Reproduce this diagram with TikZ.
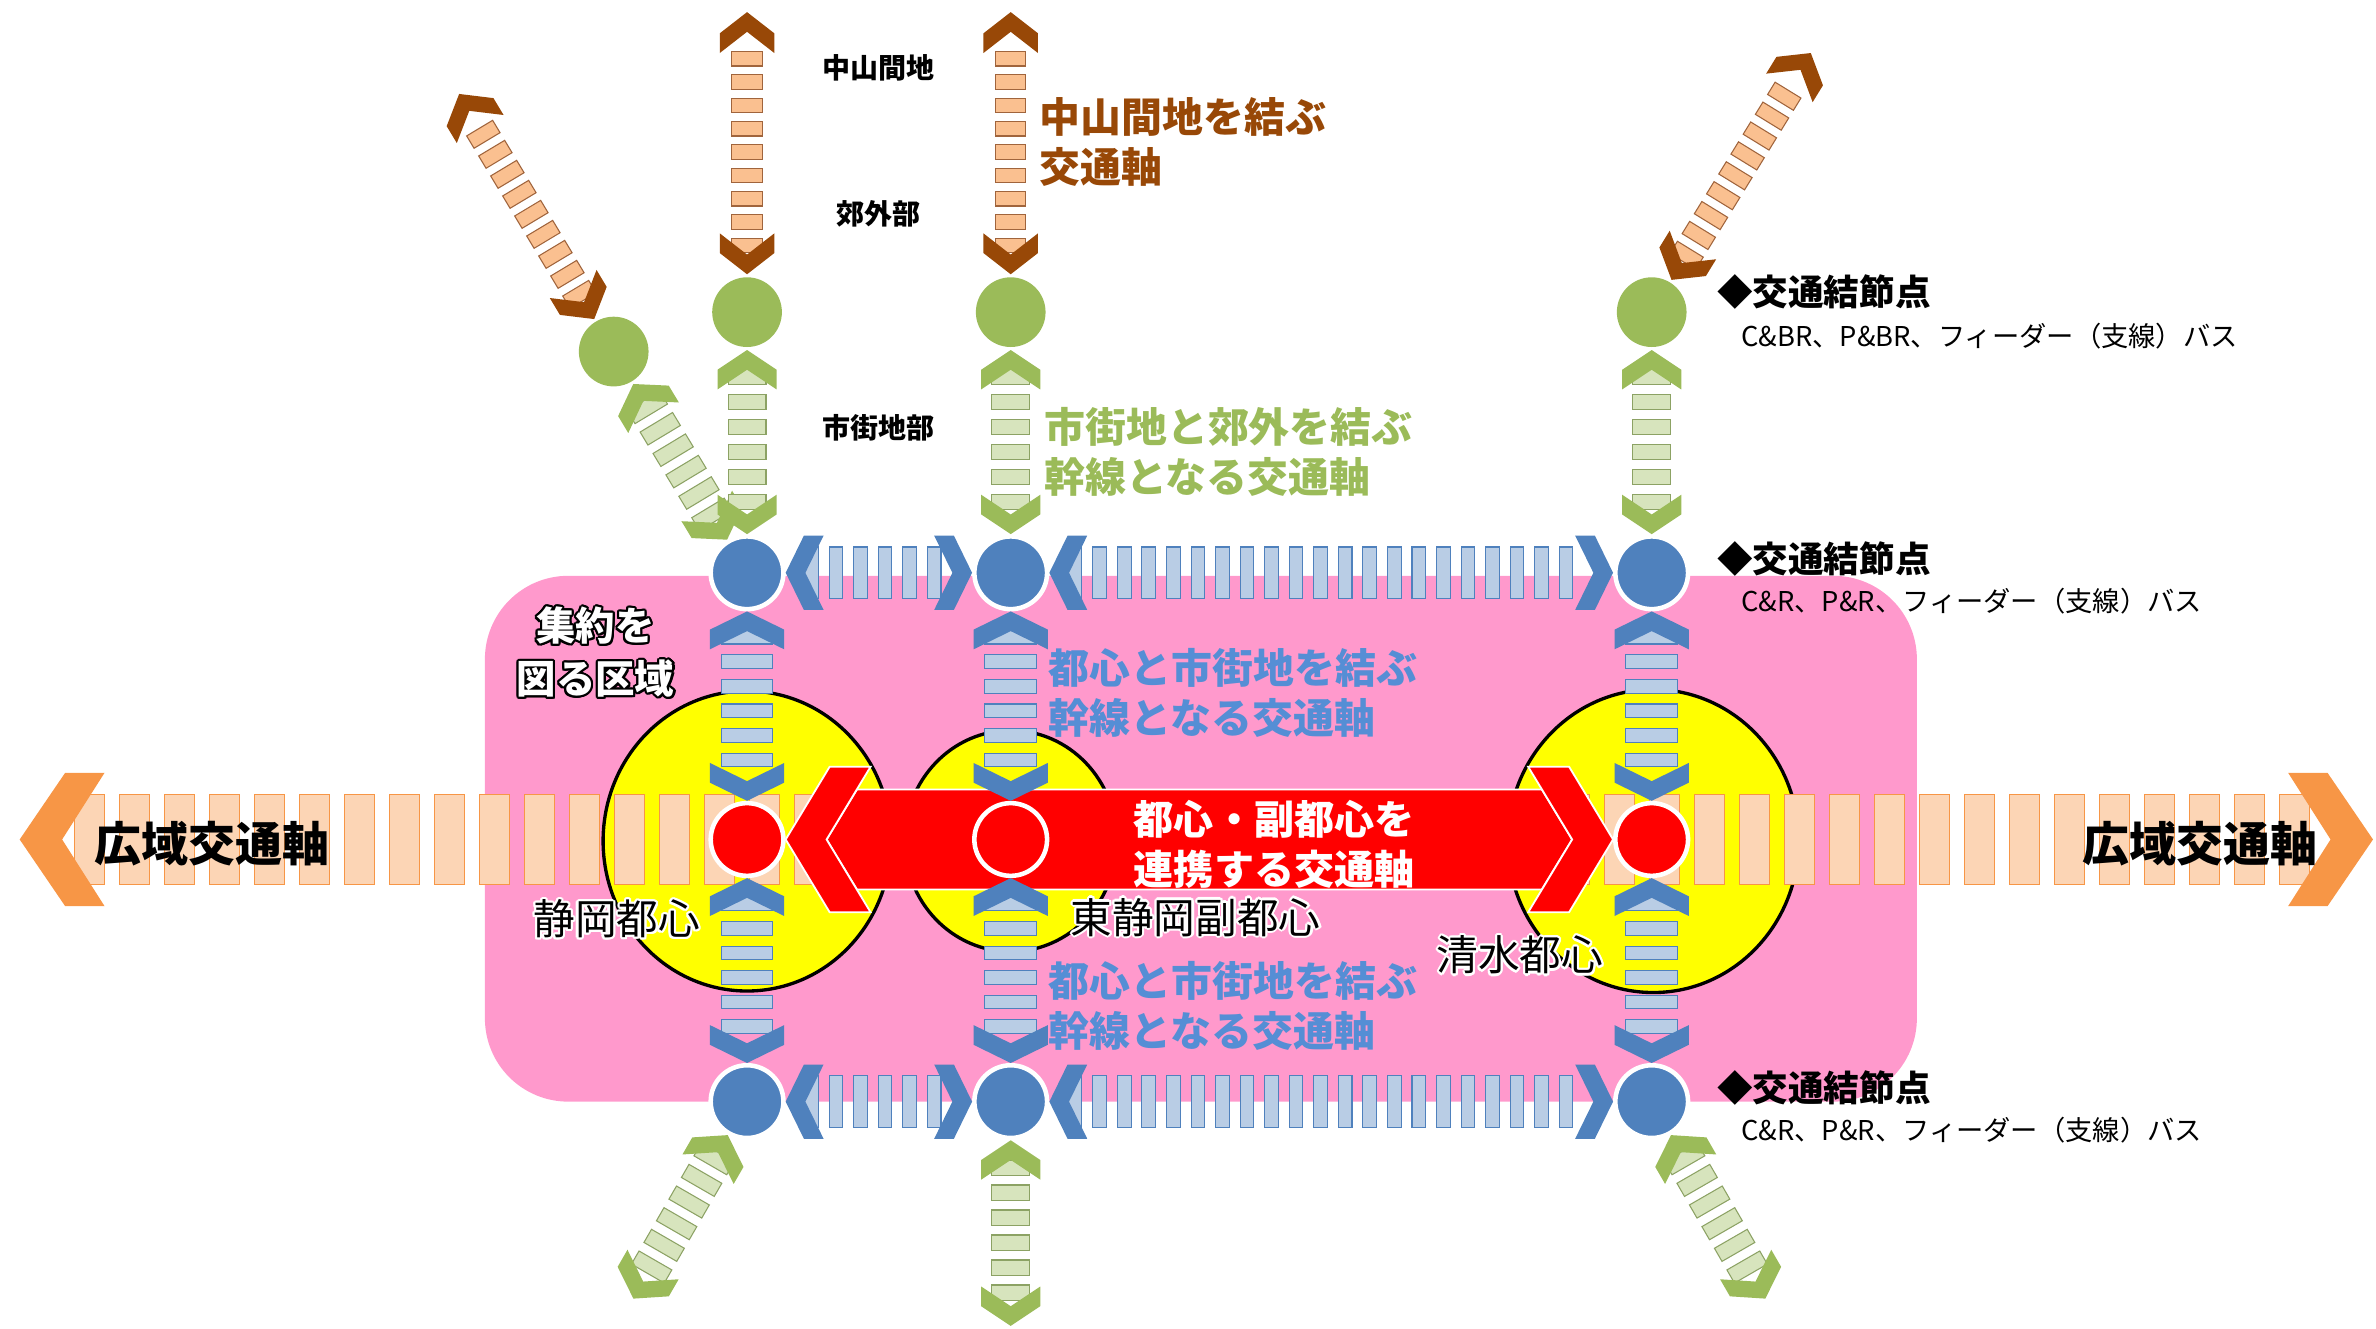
\documentclass[tikz,border=0pt]{standalone}
\usepackage{fontspec}
\setmainfont{Noto Sans CJK JP}
\usetikzlibrary{calc,decorations.markings}
\usepackage{contour}
\contourlength{1.4pt}

\definecolor{cPink}{RGB}{255,153,204}
\definecolor{cYellow}{RGB}{255,255,0}
\definecolor{cRed}{RGB}{255,0,0}
\definecolor{cBlue}{RGB}{79,129,189}
\definecolor{cBlueFill}{RGB}{185,205,229}
\definecolor{cBlueText}{RGB}{85,142,213}
\definecolor{cGreen}{RGB}{155,187,89}
\definecolor{cGreenFill}{RGB}{215,228,189}
\definecolor{cGreenLine}{RGB}{140,162,100}
\definecolor{cBrown}{RGB}{152,72,7}
\definecolor{cOrangeFill}{RGB}{250,192,144}
\definecolor{cOrangeLine}{RGB}{160,100,60}
\definecolor{cOrange}{RGB}{247,150,70}
\definecolor{cPeach}{RGB}{252,213,181}

\pgfdeclarelayer{back}
\pgfdeclarelayer{mid}
\pgfsetlayers{back,mid,main}

\tikzset{
  stripe across/.store in=\stripeW, stripe along/.store in=\stripeL,
  stripe pitch/.store in=\stripeP, stripe start/.store in=\stripeS,
  stripe fill/.store in=\stripeF, stripe line/.store in=\stripeD,
  head color/.store in=\headC, head half/.store in=\headH,
  head outer/.store in=\headA, head inner/.store in=\headW, head notch/.store in=\headN,
  stripelink/.style={
    postaction={decorate, decoration={markings,
      mark=between positions \stripeS pt and -\stripeS pt step \stripeP pt with {
        \filldraw[fill=\stripeF, draw=\stripeD, line width=0.7pt]
          (-\stripeL/2,-\stripeW/2) rectangle (\stripeL/2,\stripeW/2);}}},
    postaction={decorate, decoration={markings,
      mark=at position 0 with {\fill[fill=\headC] (0,0) -- (\headA,\headH) -- (\headW,\headH)
        -- (\headN,0) -- (\headW,-\headH) -- (\headA,-\headH) -- cycle;},
      mark=at position 1 with {\fill[fill=\headC] (0,0) -- (-\headA,\headH) -- (-\headW,\headH)
        -- (-\headN,0) -- (-\headW,-\headH) -- (-\headA,-\headH) -- cycle;}}}},
  brownlink/.style={stripe across=20, stripe along=9.5, stripe pitch=15.4, stripe start=19,
    stripe fill=cOrangeFill, stripe line=cOrangeLine, head color=cBrown,
    head half=18, head outer=14, head inner=27, head notch=13, stripelink},
  greenlink/.style={stripe across=25, stripe along=10, stripe pitch=16.5, stripe start=18,
    stripe fill=cGreenFill, stripe line=cGreenLine, head color=cGreen,
    head half=19.5, head outer=13, head inner=26, head notch=13, stripelink},
  bluelink/.style={stripe across=34, stripe along=9, stripe pitch=16.2, stripe start=17,
    stripe fill=cBlueFill, stripe line=cBlue, head color=cBlue,
    head half=24.5, head outer=12, head inner=25, head notch=13, stripelink},
  widelink/.style={stripe across=59, stripe along=20, stripe pitch=29.7, stripe start=46,
    stripe fill=cPeach, stripe line=cOrange, head color=cOrange,
    head half=44, head outer=30, head inner=56, head notch=28, stripelink},
}

\tikzstyle{greendot}=[circle, fill=cGreen, minimum size=46pt, inner sep=0pt, outer sep=2pt]
\tikzstyle{bluedot}=[circle, fill=cBlue, draw=white, line width=3pt, minimum size=48pt, inner sep=0pt]
\tikzstyle{reddot}=[circle, fill=cRed, draw=white, line width=3pt, minimum size=48pt, inner sep=0pt]
\tikzstyle{redbody}=[fill=cRed, draw=white, line width=1.2pt]
\tikzstyle{smalllabel}=[font=\fontsize{18.5}{22}\selectfont\bfseries, inner sep=0pt]
\tikzstyle{axislabel}=[font=\fontsize{27}{33}\selectfont\bfseries, align=left, inner sep=0pt, anchor=west]
\tikzstyle{hubtitle}=[font=\fontsize{23.5}{28}\selectfont\bfseries, inner sep=0pt, anchor=west]
\tikzstyle{hubnote}=[font=\fontsize{18}{22}\selectfont, inner sep=0pt, anchor=west]
\tikzstyle{placelabel}=[font=\fontsize{27.5}{33}\selectfont, inner sep=0pt]
\tikzstyle{widelabel}=[font=\fontsize{31}{36}\selectfont\bfseries, inner sep=0pt]
\tikzstyle{zonelabel}=[font=\fontsize{26}{35}\selectfont\bfseries, align=center, text=white, inner sep=0pt]
\tikzstyle{redlabel}=[font=\fontsize{26.5}{33}\selectfont\bfseries, align=center, text=white, inner sep=0pt]

\begin{document}
\begin{tikzpicture}[x=1pt, y=-1pt]
\useasboundingbox (0,0) rectangle (1568,877);
% zone and city centres
\begin{pgfonlayer}{back}
\fill[cPink, rounded corners=55pt] (320,380) rectangle (1265,727);
\draw[fill=cYellow, line width=2.2pt] (493,555) ellipse [x radius=95, y radius=99];
\draw[fill=cYellow, line width=2.2pt] (667,555) ellipse [x radius=70, y radius=73];
\draw[fill=cYellow, line width=2.2pt] (1091,555) ellipse [x radius=96, y radius=100];
\end{pgfonlayer}
% nodes
\node[greendot] (gD) at (405,232) {};
\node[greendot] (gL) at (493,206) {};
\node[greendot] (gM) at (667,206) {};
\node[greendot] (gR) at (1090,206) {};
\node[bluedot] (bTL) at (493,378) {};
\node[bluedot] (bTM) at (667,378) {};
\node[bluedot] (bTR) at (1090,378) {};
\node[reddot] (rL) at (493,554) {};
\node[reddot] (rM) at (667,554) {};
\node[reddot] (rR) at (1090,554) {};
\node[bluedot] (bBL) at (493,727) {};
\node[bluedot] (bBM) at (667,727) {};
\node[bluedot] (bBR) at (1090,727) {};
\coordinate (oD) at (303,62);
\coordinate (oL) at (493,8);
\coordinate (oM) at (667,8);
\coordinate (oR) at (1195,35);
\coordinate (eBL) at (418,857);
\coordinate (eBM) at (667,875);
\coordinate (eBR) at (1165,857);
\coordinate (wW) at (13,554);
\coordinate (wE) at (1566,554);
% wide axis and red axis
\begin{pgfonlayer}{mid}
\path[widelink] (wW) -- (wE);
\draw[redbody] ($(rL.east)+(27,0)$) -- ($(rL.east)+(47,-33)$) -- ($(rR.west)+(-47,-33)$)
  -- ($(rR.west)+(-27,0)$) -- ($(rR.west)+(-47,33)$) -- ($(rL.east)+(47,33)$) -- cycle;
\draw[redbody] (rL.east) -- ++(29,-48) -- ++(27,0) -- ++(-29,48) -- ++(29,48) -- ++(-27,0) -- cycle;
\draw[redbody] (rR.west) -- ++(-29,-48) -- ++(-27,0) -- ++(29,48) -- ++(-29,48) -- ++(27,0) -- cycle;
\end{pgfonlayer}
% Start brown
\path[brownlink] (gD) -- (oD);
\path[brownlink] (gL) -- (oL);
\path[brownlink] (gM) -- (oM);
\path[brownlink] (gR) -- (oR);
% Start green
\path[greenlink] (gD) -- (bTL);
\path[greenlink] (gL) -- (bTL);
\path[greenlink] (gM) -- (bTM);
\path[greenlink] (gR) -- (bTR);
\path[greenlink] (bBL) -- (eBL);
\path[greenlink] (bBM) -- (eBM);
\path[greenlink] (bBR) -- (eBR);
% Start blue
\path[bluelink] (bTL) -- (bTM);
\path[bluelink] (bTM) -- (bTR);
\path[bluelink] (bBL) -- (bBM);
\path[bluelink] (bBM) -- (bBR);
\path[bluelink] (bTL) -- (rL);
\path[bluelink] (rL) -- (bBL);
\path[bluelink] (bTM) -- (rM);
\path[bluelink] (rM) -- (bBM);
\path[bluelink] (bTR) -- (rR);
\path[bluelink] (rR) -- (bBR);
% labels
\node[smalllabel] (lbMount) at (580,45) {中山間地};
\node[smalllabel] (lbSub) at (580,141) {郊外部};
\node[smalllabel] (lbCity) at (580,282) {市街地部};
\node[axislabel, text=cBrown] (lbMountAxis) at (686,94) {中山間地を結ぶ\\交通軸};
\node[axislabel, text=cGreen] (lbSubAxis) at (689,298) {市街地と郊外を結ぶ\\幹線となる交通軸};
\node[axislabel, text=cBlueText] (lbCoreUp) at (692,457) {都心と市街地を結ぶ\\幹線となる交通軸};
\node[axislabel, text=cBlueText] (lbCoreDown) at (692,664) {都心と市街地を結ぶ\\幹線となる交通軸};
\node[hubtitle] (hubG) at (1133,193) {◆交通結節点};
\node[hubnote] (hubGnote) at (1149,222) {C\&BR、P\&BR、フィーダー（支線）バス};
\node[hubtitle] (hubT) at (1133,369) {◆交通結節点};
\node[hubnote] (hubTnote) at (1149,397) {C\&R、P\&R、フィーダー（支線）バス};
\node[hubtitle] (hubB) at (1133,718) {◆交通結節点};
\node[hubnote] (hubBnote) at (1149,746) {C\&R、P\&R、フィーダー（支線）バス};
\node[zonelabel] (lbZone) at (393,431) {\contour{black}{集約を}\\\contour{black}{図る区域}};
\node[widelabel] (lbWideW) at (140,557) {広域交通軸};
\node[widelabel] (lbWideE) at (1452,557) {広域交通軸};
\node[redlabel] (lbRed) at (841,557) {都心・副都心を\\連携する交通軸};
\node[placelabel] (lbShizuoka) at (407,607) {\contour{white}{静岡都心}};
\node[placelabel] (lbHigashi) at (789,606) {\contour{white}{東静岡副都心}};
\node[placelabel] (lbShimizu) at (1003,631) {\contour{white}{清水都心}};
\end{tikzpicture}
\end{document}
